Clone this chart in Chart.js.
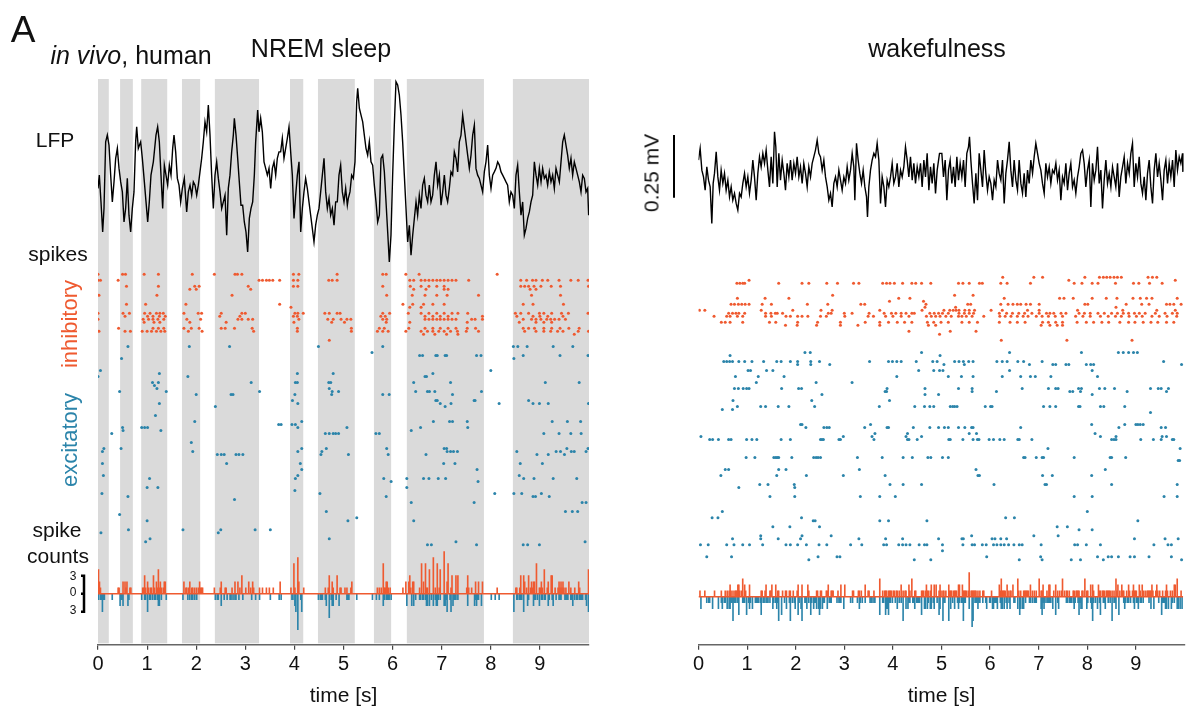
<!DOCTYPE html>
<html>
<head>
<meta charset="utf-8">
<script src="https://cdn.jsdelivr.net/npm/chart.js@4.4.1/dist/chart.umd.min.js"></script>
<style>
  html, body { margin: 0; padding: 0; background: #fff; }
  body { width: 1190px; height: 711px; position: relative; overflow: hidden;
         font-family: "Liberation Sans", Arial, sans-serif; color: #111; }
  .panel { position: absolute; top: 0; height: 711px; }
  .lbl { position: absolute; white-space: nowrap; line-height: 1; transform: translate(-50%, -50%); }
  .rot { transform: translate(-50%, -50%) rotate(-90deg); }
</style>
</head>
<body>
<div class="panel" style="left:0;width:600px"><canvas id="sleepChart"></canvas></div>
<div class="panel" style="left:600px;width:590px"><canvas id="wakeChart"></canvas></div>

<div class="lbl" style="left:23px;top:29px;font-size:37px">A</div>
<div class="lbl" style="left:131px;top:55px;font-size:25px"><i>in vivo</i>, human</div>
<div class="lbl" style="left:321px;top:48px;font-size:25px">NREM sleep</div>
<div class="lbl" style="left:937px;top:48px;font-size:25px">wakefulness</div>
<div class="lbl" style="left:55px;top:139px;font-size:21px">LFP</div>
<div class="lbl" style="left:58px;top:253px;font-size:21px">spikes</div>
<div class="lbl rot" style="left:70px;top:324px;font-size:22px;color:#ef5a30">inhibitory</div>
<div class="lbl rot" style="left:70px;top:440px;font-size:22px;color:#2b84aa">excitatory</div>
<div class="lbl" style="left:57px;top:529px;font-size:21px">spike</div>
<div class="lbl" style="left:58px;top:555px;font-size:21px">counts</div>
<div class="lbl" style="left:73px;top:576px;font-size:12px">3</div>
<div class="lbl" style="left:73px;top:592px;font-size:12px">0</div>
<div class="lbl" style="left:73px;top:610px;font-size:12px">3</div>
<div class="lbl rot" style="left:651px;top:173px;font-size:21px">0.25 mV</div>

<script>
// ---- data ----
const xTicks = [0, 1, 2, 3, 4, 5, 6, 7, 8, 9];

// NREM down-state / slow-wave shading [s]
const bandStarts = [0.00, 0.45, 0.88, 1.71, 2.38, 3.91, 4.48, 5.62, 6.29, 8.45];
const bandEnds   = [0.22, 0.71, 1.41, 2.08, 3.28, 4.18, 5.23, 5.97, 7.86, 10.0];

// LFP traces: [time s, µV]
const sleepLfp = [
  [0.000,-13],[0.027,40],[0.061,-67],[0.095,-187],[0.122,-93],[0.156,173],[0.190,200],[0.224,160],[0.258,40],[0.292,-67],
  [0.326,13],[0.360,107],[0.394,147],[0.428,67],[0.462,13],[0.496,-27],[0.530,-147],[0.563,-93],[0.597,27],[0.631,-120],
  [0.665,-187],[0.699,-93],[0.733,-27],[0.767,173],[0.788,233],[0.821,147],[0.869,173],[0.903,107],[0.944,13],[0.978,-67],
  [1.012,-147],[1.045,-67],[1.079,40],[1.127,93],[1.181,200],[1.215,233],[1.249,173],[1.283,40],[1.317,-93],[1.351,80],
  [1.385,40],[1.419,0],[1.453,80],[1.487,40],[1.521,147],[1.548,200],[1.582,133],[1.616,27],[1.650,0],[1.684,-67],
  [1.718,-13],[1.758,27],[1.806,-107],[1.840,-27],[1.874,0],[1.908,-40],[1.942,13],[1.976,0],[2.010,-40],[2.043,0],
  [2.077,53],[2.111,107],[2.145,173],[2.179,253],[2.213,213],[2.247,320],[2.281,200],[2.315,40],[2.349,-93],[2.383,40],
  [2.417,93],[2.451,27],[2.485,-27],[2.519,-93],[2.553,-67],[2.587,-40],[2.621,-200],[2.654,-13],[2.688,40],[2.722,133],
  [2.756,200],[2.777,267],[2.811,200],[2.845,107],[2.878,13],[2.912,-80],[2.946,-80],[2.980,-147],[3.014,-187],[3.048,-267],
  [3.082,-133],[3.116,-93],[3.150,-67],[3.184,40],[3.211,173],[3.252,300],[3.279,213],[3.313,267],[3.347,213],[3.381,93],
  [3.415,67],[3.449,40],[3.483,67],[3.517,-13],[3.551,67],[3.585,93],[3.619,40],[3.652,107],[3.686,133],[3.720,133],
  [3.754,187],[3.788,107],[3.822,147],[3.856,187],[3.890,233],[3.924,133],[3.958,40],[3.992,-133],[4.026,-40],[4.060,40],
  [4.094,93],[4.128,-187],[4.162,-93],[4.195,-27],[4.229,27],[4.263,-13],[4.297,-67],[4.331,-120],[4.365,-173],[4.399,-227],
  [4.433,-160],[4.467,-120],[4.501,-93],[4.535,-27],[4.569,40],[4.603,107],[4.637,-27],[4.671,-93],[4.705,-53],[4.739,-120],
  [4.773,-93],[4.807,-160],[4.840,-67],[4.874,-67],[4.908,40],[4.942,80],[4.976,-27],[5.010,-67],[5.044,-13],[5.078,-80],
  [5.098,-53],[5.132,-27],[5.166,40],[5.200,27],[5.234,93],[5.268,333],[5.289,387],[5.323,307],[5.357,280],[5.391,253],
  [5.424,200],[5.458,147],[5.492,120],[5.526,173],[5.560,93],[5.594,80],[5.628,0],[5.662,-67],[5.696,-147],[5.730,-120],
  [5.764,107],[5.798,120],[5.832,53],[5.866,-67],[5.900,-187],[5.933,-307],[5.967,-200],[6.001,40],[6.035,240],[6.069,413],
  [6.103,400],[6.137,360],[6.171,280],[6.205,173],[6.239,40],[6.273,-93],[6.307,-227],[6.341,-160],[6.375,-280],[6.409,-200],
  [6.443,-133],[6.477,-67],[6.510,-120],[6.544,-40],[6.578,-93],[6.612,0],[6.646,27],[6.680,-40],[6.714,-67],[6.748,0],
  [6.782,-67],[6.816,-40],[6.850,40],[6.884,93],[6.918,0],[6.952,40],[6.986,-80],[7.020,-27],[7.054,40],[7.088,-40],
  [7.121,-67],[7.155,-13],[7.189,53],[7.223,40],[7.257,133],[7.291,107],[7.325,53],[7.359,173],[7.393,200],[7.427,280],
  [7.461,227],[7.495,173],[7.529,120],[7.563,67],[7.597,120],[7.631,200],[7.665,240],[7.698,67],[7.732,40],[7.766,27],
  [7.800,0],[7.834,-27],[7.868,53],[7.902,93],[7.936,160],[7.970,40],[8.004,-13],[8.038,40],[8.072,53],[8.106,67],
  [8.140,93],[8.174,80],[8.208,53],[8.242,40],[8.275,27],[8.309,13],[8.343,0],[8.377,-67],[8.411,-27],[8.445,-40],
  [8.479,-93],[8.513,40],[8.547,80],[8.581,-27],[8.615,-120],[8.649,-67],[8.683,-200],[8.717,-173],[8.751,-133],[8.785,-107],
  [8.819,-67],[8.853,-40],[8.887,93],[8.921,40],[8.955,0],[8.989,67],[9.023,13],[9.056,67],[9.090,27],[9.124,40],
  [9.158,0],[9.192,53],[9.226,13],[9.260,40],[9.294,-13],[9.328,67],[9.362,40],[9.396,13],[9.430,93],[9.464,173],
  [9.497,200],[9.531,160],[9.565,120],[9.599,67],[9.633,107],[9.667,40],[9.701,93],[9.735,67],[9.769,40],[9.803,13],
  [9.837,-27],[9.871,40],[9.905,27],[9.939,-27],[9.973,-13],[9.993,-120]
];

const wakeLfp = [
  [0.000,40],[0.034,87],[0.069,0],[0.103,-27],[0.137,-80],[0.171,13],[0.206,-40],[0.240,-67],[0.274,-213],[0.302,-53],
  [0.329,-13],[0.364,73],[0.398,-27],[0.432,-80],[0.466,0],[0.501,-53],[0.535,-13],[0.569,-80],[0.604,-40],[0.638,-107],
  [0.672,-67],[0.706,-120],[0.741,-93],[0.775,-133],[0.809,-160],[0.844,-93],[0.878,-107],[0.912,-53],[0.947,-13],[0.981,-67],
  [1.015,-27],[1.049,-93],[1.084,-40],[1.118,40],[1.152,-27],[1.187,-120],[1.221,-13],[1.255,53],[1.289,13],[1.324,67],
  [1.358,27],[1.392,80],[1.427,0],[1.461,-67],[1.495,53],[1.530,-53],[1.564,153],[1.591,93],[1.619,-67],[1.653,67],
  [1.687,-40],[1.722,40],[1.756,-13],[1.790,-80],[1.824,27],[1.859,-27],[1.893,40],[1.927,-40],[1.962,27],[1.996,-13],
  [2.030,53],[2.065,-27],[2.099,13],[2.133,-53],[2.167,27],[2.202,-13],[2.236,-67],[2.270,13],[2.305,-27],[2.339,27],
  [2.373,53],[2.407,80],[2.442,120],[2.476,67],[2.510,53],[2.545,0],[2.579,40],[2.613,-27],[2.648,-67],[2.682,-120],
  [2.716,-93],[2.750,-147],[2.785,-53],[2.819,-27],[2.853,-67],[2.888,0],[2.922,-40],[2.956,-80],[2.991,-27],[3.025,-53],
  [3.059,13],[3.093,-40],[3.128,0],[3.162,67],[3.196,13],[3.217,-120],[3.251,107],[3.285,40],[3.320,-13],[3.354,-53],
  [3.388,0],[3.423,-67],[3.457,-107],[3.477,-187],[3.505,-67],[3.539,0],[3.573,40],[3.608,67],[3.642,53],[3.676,107],
  [3.711,40],[3.745,-133],[3.779,-27],[3.814,-67],[3.848,-147],[3.882,-40],[3.916,-67],[3.951,-27],[3.985,27],[4.019,-53],
  [4.054,-27],[4.088,27],[4.122,-67],[4.157,0],[4.191,-27],[4.225,13],[4.259,93],[4.294,40],[4.328,-27],[4.362,53],
  [4.397,-40],[4.431,27],[4.465,-53],[4.500,13],[4.534,-27],[4.568,27],[4.602,-67],[4.637,40],[4.671,-27],[4.705,67],
  [4.740,-80],[4.774,13],[4.808,-53],[4.842,27],[4.877,-93],[4.911,0],[4.959,67],[5.007,67],[5.041,-27],[5.076,40],
  [5.110,-120],[5.144,0],[5.178,40],[5.213,-53],[5.247,13],[5.281,-67],[5.316,53],[5.350,-40],[5.384,27],[5.419,-27],
  [5.453,40],[5.487,-67],[5.521,67],[5.556,93],[5.576,133],[5.604,40],[5.638,-53],[5.672,-133],[5.707,-13],[5.741,-120],
  [5.775,67],[5.810,0],[5.844,-67],[5.878,80],[5.912,-13],[5.947,-80],[5.981,-27],[6.015,-53],[6.050,-120],[6.084,-40],
  [6.118,-67],[6.153,40],[6.187,-13],[6.221,-40],[6.255,40],[6.290,-133],[6.324,-13],[6.358,40],[6.393,113],[6.427,0],
  [6.461,-67],[6.495,40],[6.530,-40],[6.564,-80],[6.598,40],[6.633,-53],[6.667,-93],[6.701,-13],[6.735,-107],[6.770,0],
  [6.804,-53],[6.838,40],[6.873,-13],[6.907,53],[6.941,107],[6.976,67],[7.010,27],[7.044,0],[7.078,-53],[7.113,-93],
  [7.147,27],[7.181,-27],[7.216,13],[7.250,-53],[7.284,0],[7.318,-13],[7.353,27],[7.387,-40],[7.421,0],[7.456,-120],
  [7.490,-27],[7.524,-53],[7.559,27],[7.593,-80],[7.627,-13],[7.661,27],[7.696,-67],[7.730,-40],[7.764,-93],[7.799,-27],
  [7.833,13],[7.867,67],[7.902,80],[7.936,27],[7.970,-67],[8.004,0],[8.039,40],[8.073,-147],[8.107,27],[8.142,-40],
  [8.176,0],[8.210,93],[8.245,-53],[8.279,0],[8.313,-153],[8.347,-40],[8.382,40],[8.416,-53],[8.450,-13],[8.485,-67],
  [8.519,13],[8.553,-27],[8.587,-67],[8.622,27],[8.656,-107],[8.690,-27],[8.725,13],[8.759,53],[8.793,-53],[8.828,27],
  [8.862,-13],[8.896,67],[8.930,107],[8.965,-67],[8.999,27],[9.033,-27],[9.068,53],[9.102,-53],[9.136,-93],[9.171,-27],
  [9.205,-120],[9.239,-13],[9.273,40],[9.308,-67],[9.342,-133],[9.376,0],[9.411,67],[9.445,-27],[9.479,27],[9.514,-40],
  [9.548,-120],[9.582,0],[9.616,40],[9.651,-53],[9.685,27],[9.719,-27],[9.754,40],[9.788,-67],[9.822,80],[9.856,0],
  [9.891,53],[9.925,27],[9.959,67],[9.966,-7]
];

// rasters: [neuron index, spike times s]
const sleepInh = [
  [0, [0.00,0.50,0.56,0.94,1.23,1.92,2.37,2.79,2.84,2.93,3.98,4.09,4.87,5.80,5.87,6.27,6.54,8.13]],
  [2, [0.00,0.05,0.41,3.28,3.35,3.43,3.49,3.56,3.70,3.98,4.07,4.70,4.77,4.87,6.35,6.43,6.58,6.66,6.74,6.82,6.90,6.97,7.05,7.13,7.21,7.29,7.55,8.61,8.73,8.85,8.92,9.05,9.16,9.39,9.63,9.78,9.98]],
  [4, [0.58,1.23,1.97,2.06,3.06,3.98,4.07,5.80,6.36,6.58,6.74,6.90,7.05,8.61,8.69,8.77,8.88,9.02,9.23,9.42,9.99]],
  [5, [1.87,2.00,3.11,6.43,6.68,7.05,7.13,8.80,8.92]],
  [7, [0.02,1.20,2.73,5.88,6.40,6.66,6.90,7.11,7.75,8.83,9.42]],
  [10, [0.58,0.97,1.79,3.70,6.21,6.41,6.63,6.82,7.05,8.66,8.86,9.48]],
  [11, [3.93,6.35,6.58]],
  [13, [0.00,0.51,0.64,0.95,1.06,1.19,1.26,1.33,1.75,2.04,2.11,2.51,2.93,3.00,4.01,4.07,4.18,4.62,4.71,4.87,4.93,5.80,5.94,6.32,6.58,6.74,6.90,7.05,7.21,7.33,7.53,8.50,8.61,8.77,8.99,9.08,9.24,9.44,9.58,9.98]],
  [14, [0.55,1.01,1.12,1.25,1.37,2.48,2.89,3.98,4.06,5.76,5.85,6.66,6.82,6.97,7.13,7.83,8.53,8.86,9.00,9.16,9.47]],
  [15, [0.00,0.92,1.03,1.12,1.22,1.34,1.81,2.09,2.85,2.93,3.06,3.15,4.09,4.68,4.79,4.95,5.07,5.15,5.80,5.88,6.66,6.74,6.82,6.90,6.97,7.05,7.13,7.21,7.29,7.61,7.68,7.83,8.66,8.83,8.92,9.02,9.14,9.22,9.30,9.39,9.52]],
  [16, [0.94,1.14,1.26,1.87,2.61,3.99,4.76,5.02,5.87,6.35,7.52,8.58,8.92,9.08,9.24]],
  [18, [0.42,1.12,1.23,1.34,1.75,1.90,2.06,2.51,2.59,2.78,3.14,4.06,5.16,5.73,5.83,6.33,6.66,6.82,6.97,7.13,7.29,7.52,7.69,8.66,8.77,8.89,9.08,9.24,9.41,9.59,9.80]],
  [19, [0.02,0.55,0.66,0.90,1.00,1.09,1.19,1.28,1.36,1.84,2.12,3.17,4.06,5.16,5.69,5.80,5.91,6.27,6.58,6.71,6.82,6.94,7.05,7.18,7.32,7.50,7.75,8.69,8.92,9.08,9.22,9.36,9.47,9.78,9.99]],
  [20, [6.63,6.86,7.10,7.33,9.70]],
  [22, [4.71]]
];

const sleepExc = [
  [24, [0.61,1.86,2.68,4.49,5.80,8.46,8.55,8.74,9.27,9.67]],
  [26, [5.58]],
  [27, [6.55,6.61,6.88,6.91,7.07,7.10,7.71,7.80,8.66,9.41,9.98]],
  [28, [0.48,8.47]],
  [32, [0.05,8.00]],
  [33, [1.25,4.06,4.79,6.82]],
  [34, [0.00,1.83,6.66,6.69]],
  [36, [1.11,1.23,3.12,4.02,4.06,4.70,4.74,6.43,7.18,9.11,9.80]],
  [37, [1.15]],
  [38, [1.20,4.71]],
  [39, [0.44,1.39,3.29,4.77,4.90,6.47,6.71,6.75,6.86,7.81]],
  [40, [2.00,2.71,2.75,4.01,4.76,5.80,5.93,7.22]],
  [42, [3.96,6.88,6.91,7.66,7.68,8.77]],
  [43, [1.25,4.07,6.97,7.19,8.17,8.86,8.99,9.17,9.99]],
  [44, [2.39,7.07]],
  [47, [1.17]],
  [49, [1.97,4.15,6.83,7.16,7.22,7.52,9.25,9.56,9.83]],
  [50, [3.68,3.73,3.95,4.02]],
  [51, [0.50,0.89,0.95,1.01,4.07,5.07,6.57,7.53]],
  [52, [0.51,1.28,6.38]],
  [53, [0.28,4.63,4.71,4.79,4.84,4.90,5.66,5.73,9.08,9.39,9.63,9.84]],
  [56, [1.90]],
  [58, [0.12,0.47,4.15,4.65,5.88,7.05,7.10,9.55,9.98]],
  [59, [0.09,1.93,4.07,4.56,7.11,7.18,7.24,7.32,8.53,9.33,9.42,9.64,9.70,9.94]],
  [60, [2.43,2.51,2.57,2.81,2.87,2.95,4.54,5.10,5.91,6.68,8.94,9.17,9.50]],
  [63, [0.09,2.62,4.12,7.04,7.27,8.60,9.05]],
  [65, [4.15,7.72]],
  [67, [0.11,4.07,8.58]],
  [68, [1.05,4.02,5.82,6.29,6.63,6.74,6.93,7.08,8.67,8.88,9.27,9.75]],
  [69, [5.97,7.74]],
  [71, [1.00,1.22,6.29]],
  [72, [4.01]],
  [73, [0.08,4.52,8.08,8.47,8.63,9.03]],
  [74, [0.61,5.87,8.86,8.91,9.19]],
  [75, [2.78]],
  [76, [6.38,7.66,9.86,9.94]],
  [79, [4.65,9.52,9.66,9.77]],
  [80, [0.44]],
  [81, [5.27]],
  [82, [1.00,5.09,6.43]],
  [85, [0.62,1.73,2.50,3.20,3.51]],
  [86, [0.06,2.45]],
  [88, [1.06,4.71]],
  [89, [0.97,7.29,9.92]],
  [90, [6.71,6.79,7.71,8.66,8.75,8.99]]
];

const wakeInh = [
  [1, [6.26,6.90,7.08,7.95,8.25,8.33,8.40,8.47,8.55,8.62,8.70,9.25,9.34,9.43]],
  [2, [1.04,7.62,9.81]],
  [3, [0.79,0.85,0.91,0.95,1.65,2.13,2.27,2.64,2.86,3.19,3.30,3.79,3.87,3.94,4.03,4.20,4.39,4.47,4.59,4.78,5.35,5.44,5.57,5.78,5.84,6.22,6.35,6.83,7.73,7.89,8.10,8.22,8.58,8.95,9.06,9.28,9.54]],
  [7, [2.76,5.27,5.65]],
  [8, [0.80,1.37,1.86,4.12,4.35,6.29,7.43,7.52,7.71,8.10,8.39,8.61,8.94,9.09,9.22,9.33,9.85]],
  [9, [3.93,4.63]],
  [10, [0.67,0.74,0.82,0.89,0.96,1.04,1.31,1.50,2.24,2.66,3.34,3.42,4.68,5.54,5.60,6.22,6.37,6.47,6.56,6.63,6.74,6.83,7.01,7.95,8.01,8.80,9.12,9.27,9.63,9.70,9.78,9.93]],
  [11, [4.66,5.29,8.59]],
  [12, [0.02,0.13,1.29,1.94,2.52,2.75,3.73,4.60,5.05,5.17,5.24,5.30,5.36,5.48,5.57,5.68,6.02,6.25,6.77,7.01,7.80,8.73,9.43,9.81]],
  [13, [0.62,0.70,0.77,0.83,0.95,1.38,1.49,1.58,1.62,1.73,2.67,2.73,3.00,3.16,3.51,3.82,3.97,4.06,4.17,4.27,4.39,4.44,4.76,4.85,4.94,5.02,5.14,5.36,5.47,5.57,5.66,6.19,6.34,6.46,6.59,6.71,6.86,7.01,7.16,7.23,7.31,7.46,7.56,7.83,7.94,8.06,8.22,8.35,8.50,8.62,8.74,8.85,8.97,9.07,9.19,9.40,9.60,9.75,9.85]],
  [14, [0.32,0.58,0.65,0.80,0.91,1.38,1.50,1.80,1.89,2.04,2.13,2.25,2.51,2.63,3.01,3.49,3.60,3.85,4.00,4.17,4.33,4.69,4.79,4.88,4.97,5.09,5.20,5.35,5.42,5.51,5.63,5.87,6.20,6.31,6.43,6.56,6.68,6.78,6.95,7.07,7.20,7.34,7.49,7.76,7.91,8.06,8.27,8.43,8.58,8.70,8.86,9.01,9.13,9.33,9.48,9.64,9.84]],
  [16, [0.47,0.55,0.65,0.91,1.46,1.59,2.04,2.45,2.92,3.43,3.73,3.91,4.09,4.24,4.39,4.71,4.84,4.99,5.14,5.42,5.57,5.74,6.19,6.41,6.56,6.72,7.08,7.20,7.35,7.49,7.79,7.98,8.13,8.30,8.44,8.67,8.85,8.98,9.15,9.31,9.45,9.63,9.78]],
  [17, [1.79,2.03,2.43,2.92,3.28,3.73,4.73,4.88,7.05,7.23,7.38,7.49]],
  [19, [4.33,5.18,5.71]],
  [20, [4.96]],
  [22, [6.23,7.58,8.92]]
];

const wakeExc = [
  [26, [2.19,2.30,4.59,6.40,7.88,8.64,8.74,8.85,8.95,9.03]],
  [27, [0.65,4.97]],
  [29, [0.52,0.58,0.64,0.70,0.83,0.95,1.10,1.34,1.61,1.70,1.89,2.04,2.31,2.49,3.52,3.91,3.99,4.08,4.17,4.48,4.82,4.91,5.27,5.36,5.45,5.56,5.65,6.14,6.25,6.35,6.57,6.69,7.07,9.57]],
  [30, [2.04,2.31,2.70,5.05,5.47,6.81,7.29,7.35,7.56,7.62,7.98,8.07,8.13,9.94]],
  [32, [1.02,1.07,1.40,1.53,4.53,4.84,4.96,5.03,6.40,8.10]],
  [34, [0.76,1.23,1.76,4.08,5.14,5.41,5.65,6.25,6.63,6.83,6.93,7.25,8.21]],
  [36, [1.19,2.42,3.16]],
  [38, [0.74,0.82,0.92,0.99,1.04,1.71,2.06,2.12,3.88,4.66,5.35,5.63,6.66,7.20,7.35,7.40,7.82,7.88,8.25,8.36,8.56,9.30,9.46,9.52,9.67]],
  [39, [3.84,3.87,5.63,6.13,7.64,7.70,7.86,8.82,9.63]],
  [40, [2.54,4.66,4.94,8.10]],
  [42, [0.71,2.33,3.93]],
  [44, [0.80,1.28,1.38,1.64,1.86,2.39,3.72,4.45,4.65,4.76,4.84,5.18,5.23,5.27,5.32,5.90,6.01,6.04,7.10,7.23,7.35,7.82,7.85,8.27,8.34,8.77]],
  [45, [0.49,0.70]],
  [46, [9.30]],
  [50, [2.10,2.13,3.54,8.09,8.77,9.00,9.04,9.09,9.15]],
  [51, [2.21,2.58,2.64,2.69,3.42,3.88,3.91,4.42,4.76,4.94,5.06,5.14,5.35,5.48,5.62,5.65,6.63,8.65,9.52,9.61]],
  [53, [3.63,4.30,5.57,5.72,8.16]],
  [54, [0.05,2.98,3.57,4.27,4.59,8.27,8.59,9.54,9.63]],
  [55, [0.23,0.29,0.41,0.62,0.67,0.99,1.10,1.20,1.70,1.89,2.51,2.54,2.57,2.89,2.92,3.61,4.30,4.33,4.50,5.15,5.18,5.44,5.65,5.74,5.77,5.98,6.07,6.20,6.29,6.57,6.60,6.86,8.50,8.55,8.59,9.10,9.36,9.52,9.75,9.78]],
  [58, [7.19,9.91]],
  [61, [0.98,1.16,1.55,1.59,1.62,1.65,1.92,2.37,2.42,2.46,2.51,3.27,3.78,4.21,4.40,4.72,4.78,5.02,5.14,6.69,6.72,6.95,7.07,7.10,7.73,8.47,8.50,8.79]],
  [62, [9.87,9.90]],
  [65, [0.55,0.62,1.65,1.80,3.31,5.71,8.37]],
  [67, [0.46,1.61,2.22,2.98,3.84,5.75,5.78,7.08,7.28,8.09]],
  [70, [1.26,1.43,1.97,3.94,4.21,4.59,6.08,7.13,7.16,8.50,9.85]],
  [71, [0.83,1.98]],
  [74, [1.47,1.98,3.33,3.73,4.05,7.73,8.10,9.58,9.85]],
  [79, [0.49,8.00]],
  [81, [0.28,0.40,2.12,6.32,6.50]],
  [82, [2.36,2.40,3.73,3.91,4.70,9.04]],
  [84, [1.53,1.88,2.49,7.38,7.59]],
  [85, [7.83,8.10]],
  [87, [1.28,2.13,2.73,5.62,6.90,7.40]],
  [88, [0.70,1.28,1.64,2.10,3.30,3.85,4.20,4.94,5.42,5.45,6.04,6.10,6.22,6.34,8.97,9.60,9.87]],
  [90, [0.04,0.20,0.58,0.73,0.91,1.05,1.32,1.80,1.89,2.04,2.22,2.48,2.64,3.13,3.36,3.81,3.87,4.12,4.20,4.27,4.35,4.54,4.65,4.70,5.02,5.44,5.63,5.68,5.84,5.92,6.07,6.14,6.22,6.29,6.38,6.49,6.60,6.66,7.05,7.74,7.80,7.98,8.27,9.37,9.66,9.73]],
  [92, [5.02]],
  [94, [0.17,0.68,2.46,2.85,2.91,5.93,7.04,8.21,8.43,8.50,8.64,8.88,8.97,9.27,9.73]],
  [95, [2.27,4.44,4.78,6.60,7.07,7.67,7.86,8.33,9.94]]
];

// ---- drawing ----
const ORANGE = '#ef5a30';
const BLUE = '#2b84aa';
const BIN = 0.02; // spike-count bin width [s]
Chart.defaults.font.family = '"Liberation Sans", Arial, sans-serif';

// population spike counts from the raster rows
function countBins(rows, sign) {
    const n = Math.round(10 / BIN);
    const counts = new Array(n).fill(0);
    rows.forEach(([, times]) => times.forEach(t => {
        counts[Math.min(n - 1, Math.floor(t / BIN + 1e-6))]++;
    }));
    return counts.map((c, b) => ({ x: (b + 0.5) * BIN, y: sign * c })).filter(p => p.y !== 0);
}

function rasterPoints(rows) {
    return rows.flatMap(([neuron, times]) => times.map(t => ({ x: t, y: neuron })));
}

// grey shading behind the NREM up-states, stops just above the axis line
const bandsPlugin = {
    id: 'bands',
    beforeDatasetsDraw(chart, args, opts) {
        if (!opts.starts) return;
        const { ctx, chartArea, scales: { x } } = chart;
        ctx.save();
        ctx.fillStyle = '#dadada';
        opts.starts.forEach((s, k) => {
            const x0 = x.getPixelForValue(s), x1 = x.getPixelForValue(opts.ends[k]);
            ctx.fillRect(x0, chartArea.top, x1 - x0, chartArea.bottom - chartArea.top - 1.5);
        });
        ctx.restore();
    }
};

const scaleBarPlugin = {
    id: 'scaleBar',
    afterDraw(chart, args, opts) {
        if (!opts.axis) return;
        const { ctx, chartArea } = chart;
        const sc = chart.scales[opts.axis];
        const x = chartArea.left - opts.offset;
        const y0 = sc.getPixelForValue(opts.from), y1 = sc.getPixelForValue(opts.to);
        ctx.save();
        ctx.strokeStyle = '#000';
        ctx.lineWidth = opts.width;
        ctx.beginPath();
        ctx.moveTo(x, y0); ctx.lineTo(x, y1);
        if (opts.cap) {
            const yMid = sc.getPixelForValue(0);
            [y0, yMid, y1].forEach(y => { ctx.moveTo(x - opts.cap, y); ctx.lineTo(x + opts.width / 2, y); });
        }
        ctx.stroke();
        ctx.restore();
    }
};

function makePanel(id, lfp, inh, exc, p) {
    const barCommon = { type: 'bar', yAxisID: 'yCnt', grouped: false, barPercentage: 1, categoryPercentage: 1, borderWidth: 0 };
    return new Chart(document.getElementById(id), {
        type: 'scatter',
        data: {
            datasets: [
                { type: 'line', data: [{ x: 0, y: 0 }, { x: p.end, y: 0 }], yAxisID: 'yCnt',
                  borderColor: ORANGE, borderWidth: 1.3, pointRadius: 0, order: 1 },
                Object.assign({ data: countBins(inh, 1), backgroundColor: ORANGE, order: 2 }, barCommon),
                Object.assign({ data: countBins(exc, -1), backgroundColor: BLUE, order: 3 }, barCommon),
                { data: rasterPoints(inh), yAxisID: 'yRaster', pointRadius: 1.5, pointBorderWidth: 0,
                  backgroundColor: ORANGE, order: 4 },
                { data: rasterPoints(exc), yAxisID: 'yRaster', pointRadius: 1.5, pointBorderWidth: 0,
                  backgroundColor: BLUE, order: 5 },
                { type: 'line', data: lfp.map(([t, v]) => ({ x: t, y: v })), yAxisID: 'yLfp',
                  borderColor: '#000', borderWidth: 1.4, pointRadius: 0, tension: 0, order: 6 }
            ]
        },
        options: {
            responsive: true,
            maintainAspectRatio: false,
            animation: false,
            events: [],
            layout: { padding: { left: p.padL, right: p.padR, top: 79, bottom: 1 } },
            plugins: {
                legend: { display: false },
                tooltip: { enabled: false },
                bands: { starts: p.starts, ends: p.ends },
                scaleBar: p.bar
            },
            scales: {
                x: {
                    type: 'linear', min: 0, max: 10, offset: false,
                    afterBuildTicks: axis => { axis.ticks = xTicks.map(v => ({ value: v })); },
                    ticks: { font: { size: 20 }, color: '#111', padding: 3, maxRotation: 0, autoSkip: false },
                    grid: { display: true, offset: false, drawOnChartArea: false, drawTicks: true, tickLength: 5, color: '#444', lineWidth: 1.2 },
                    border: { display: true, color: '#666', width: 1.5 },
                    title: { display: true, text: 'time [s]', font: { size: 21 }, color: '#111', padding: { top: 4, bottom: 1 } }
                },
                y: { display: false },
                yLfp: { display: false, min: p.lfpMin, max: p.lfpMax },
                yRaster: { display: false, reverse: true, min: -65, max: 123.33 },
                yCnt: { display: false, min: p.cntMin, max: p.cntMax }
            }
        },
        plugins: [bandsPlugin, scaleBarPlugin]
    });
}

makePanel('sleepChart', sleepLfp, sleepInh, sleepExc, {
    padL: 98, padR: 11, end: 10,
    starts: bandStarts, ends: bandEnds,
    lfpMin: -1836, lfpMax: 424, cntMin: -8.5, cntMax: 85.67,
    bar: { axis: 'yCnt', from: 3, to: -3, offset: 14, width: 2.5, cap: 3 }
});

makePanel('wakeChart', wakeLfp, wakeInh, wakeExc, {
    padL: 98.5, padR: 5.5, end: 9.97,
    lfpMin: -1896, lfpMax: 364, cntMin: -8, cntMax: 86.17,
    bar: { axis: 'yLfp', from: 140, to: -110, offset: 24.5, width: 2 }
});
</script>
</body>
</html>
